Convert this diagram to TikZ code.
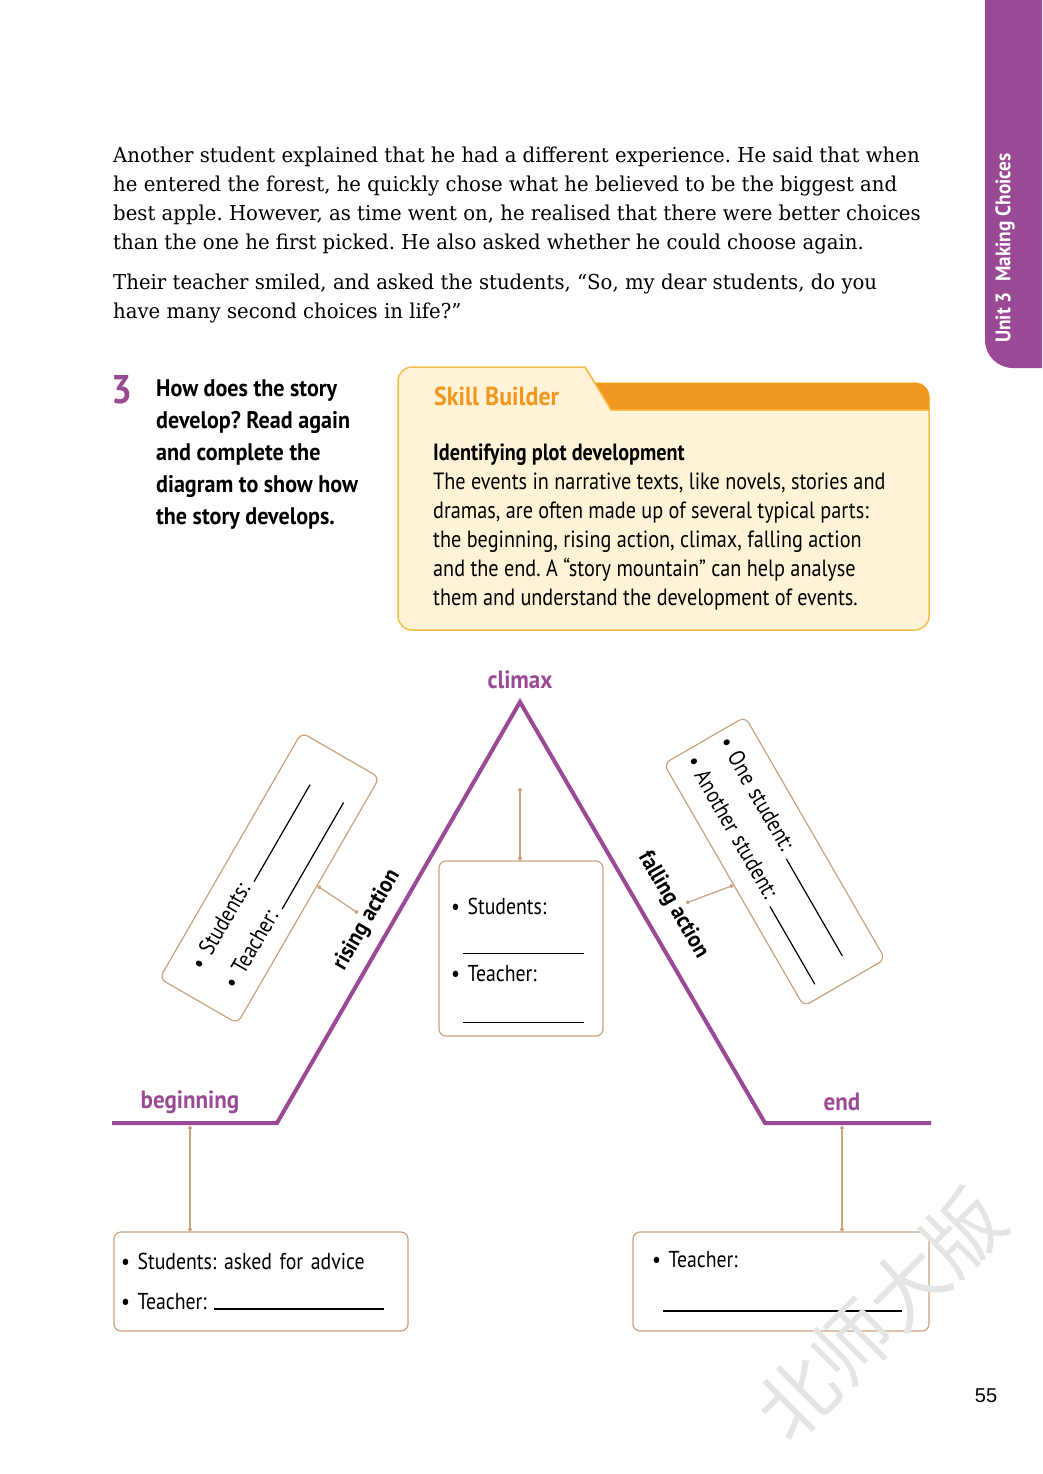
\documentclass[tikz,border=0pt]{standalone}
\usepackage{fontspec}
\setmainfont[FakeStretch=0.96]{DejaVu Serif}
\newfontfamily\condfont[FakeStretch=0.86]{PT Sans}
\newfontfamily\narrowfont[FakeStretch=0.92]{PT Sans}
\newfontfamily\pagefont{Liberation Sans}
\newfontfamily\cjkfont{Noto Sans CJK SC}
\usetikzlibrary{arrows.meta,positioning,calc}
\definecolor{unitpurple}{HTML}{9A4A95}
\definecolor{linkbrown}{HTML}{C9A27E}
\definecolor{skillcream}{HTML}{FEF3D6}
\definecolor{skillborder}{HTML}{F3C04E}
\definecolor{skillorange}{HTML}{F1961F}
\newcommand{\blank}[1]{\rule{#1}{1.2pt}}
\frenchspacing

\begin{document}
\begin{tikzpicture}[x=1pt,y=-1pt,
  answerbox/.style={draw=linkbrown,fill=white,rounded corners=7pt,line width=1.2pt,
    inner sep=0pt,align=left,font=\condfont\fontsize{23}{38}\selectfont},
  link/.style={draw=linkbrown,line width=1.2pt,{Circle[length=4pt]}-{Circle[length=4pt]}},
  mountain/.style={draw=unitpurple,line width=4pt,line join=miter},
  stagelabel/.style={font=\narrowfont\bfseries\fontsize{25}{28}\selectfont,text=unitpurple},
  slopelabel/.style={font=\narrowfont\bfseries\fontsize{23}{28}\selectfont}]
\useasboundingbox (0,0) rectangle (1042,1474);

% unit tab
\fill[unitpurple] (1042,0) -- (985,0) -- (985,340) arc[start angle=180,end angle=90,radius=28]
  -- (1042,368) -- cycle;
\node[rotate=90,text=white,font=\narrowfont\bfseries\fontsize{21}{24}\selectfont] (unittab)
  at (1005,248) {Unit 3\enspace Making Choices};

% story text (base = last line)
\node[anchor=base west,align=left,inner sep=0pt,font=\fontsize{20.5}{29}\selectfont] (story)
  at (113,249) {Another student explained that he had a different experience. He said that when\\
  he entered the forest, he quickly chose what he believed to be the biggest and\\
  best apple. However, as time went on, he realised that there were better choices\\
  than the one he first picked. He also asked whether he could choose again.};
\node[anchor=base west,align=left,inner sep=0pt,font=\fontsize{20.5}{29}\selectfont] (teacher)
  at (113,318) {Their teacher smiled, and asked the students, “So, my dear students, do you\\
  have many second choices in life?”};

% task
\node[text=unitpurple,font=\narrowfont\bfseries\fontsize{40}{40}\selectfont] (tasknum)
  at (122,390) {3};
\node[anchor=base west,align=left,inner sep=0pt,font=\narrowfont\bfseries\fontsize{24}{32}\selectfont]
  (task) at (156,524) {How does the story\\develop? Read again\\and complete the\\diagram to show how\\the story develops.};

% skill builder
\path[fill=skillcream,draw=skillborder,line width=1.5pt] (585,367) -- (595,383)
  [rounded corners=14pt] -- (929,383) -- (929,630) -- (398,630) -- (398,367) [sharp corners] -- cycle;
\fill[skillorange] (595,383) [rounded corners=13pt] -- (929,383) [sharp corners] -- (929,410)
  -- (611,410) -- cycle;
\draw[skillborder,line width=1.5pt] (585,367) -- (611,410) -- (929,410);
\node[anchor=base west,inner sep=0pt,text=skillorange,font=\narrowfont\bfseries\fontsize{26}{28}\selectfont]
  (skilltitle) at (434,405) {Skill Builder};
\node[anchor=base west,align=left,inner sep=0pt,font=\condfont\fontsize{23.5}{29}\selectfont]
  (skilltext) at (433,605) {\textbf{Identifying plot development}\\
  The events in narrative texts, like novels, stories and\\
  dramas, are often made up of several typical parts:\\
  the beginning, rising action, climax, falling action\\
  and the end. A “story mountain” can help analyse\\
  them and understand the development of events.};

% story mountain
\coordinate (start) at (112,1123);
\coordinate (foot1) at (277,1123);
\coordinate (peak) at (520,702);
\coordinate (foot2) at (765,1123);
\coordinate (finish) at (931,1123);
\draw[mountain] (start) -- (foot1) -- (peak) -- (foot2) -- (finish);

\node[stagelabel] (climaxlabel) at (520,680) {climax};
\node[stagelabel] (beginlabel) at (190,1102) {beginning};
\node[stagelabel] (endlabel) at (842,1102) {end};
\node[slopelabel,rotate=60] (risinglabel) at (367,920) {rising action};
\node[slopelabel,rotate=-60] (fallinglabel) at (673,905) {falling action};

% answer boxes
\node[answerbox,rotate=60,minimum width=284pt,minimum height=90pt,text width=228pt] (risebox)
  at (269.5,878) {\textbullet\ Students: \blank{112pt}\\\textbullet\ Teacher: \blank{123pt}};
\node[answerbox,rotate=-60,minimum width=280pt,minimum height=94pt,text width=262pt] (fallbox)
  at (774.5,861.5) {\textbullet\ One student: \blank{112pt}\\\textbullet\ Another student: \blank{90pt}};
\node[answerbox,minimum width=164pt,minimum height=175pt,text width=140pt,
  font=\condfont\fontsize{23}{27}\selectfont] (climaxbox) at (521,948.5)
  {\rule{0pt}{40pt}\textbullet\ Students:\\[13pt]\hspace*{12pt}\blank{121pt}\\
  \textbullet\ Teacher:\\[15pt]\hspace*{12pt}\blank{121pt}};
\node[answerbox,minimum width=294pt,minimum height=99pt,text width=280pt,
  font=\condfont\fontsize{23}{40}\selectfont] (begbox) at (261,1281.5)
  {\textbullet\ Students: asked for advice\\\textbullet\ Teacher: \blank{170pt}};
\node[answerbox,minimum width=296pt,minimum height=99pt,text width=258pt,
  font=\condfont\fontsize{23}{44}\selectfont] (endbox) at (781,1281.5)
  {\textbullet\ Teacher:\\\hspace*{11pt}\blank{239pt}};

% connectors
\coordinate (beglink) at (190,1126);
\coordinate (endlink) at (842,1126);
\coordinate (climaxlink) at (520,788);
\coordinate (riselink) at (358,913);
\coordinate (falllink) at (686,903);
\draw[link] (beglink) -- (beglink |- begbox.north);
\draw[link] (endlink) -- (endlink |- endbox.north);
\draw[link] (climaxlink) -- (climaxlink |- climaxbox.north);
\draw[link] ($(risebox.south)!0.12!(risebox.south east)$) -- (riselink);
\draw[link] (fallbox.south) -- (falllink);

% watermark and page number
\node[rotate=45,text=black!10,font=\cjkfont\fontsize{78}{80}\selectfont] (watermark)
  at (880,1315) {北师大版};
\node[font=\pagefont\fontsize{20}{24}\selectfont] (pagenum) at (986,1396) {55};
\end{tikzpicture}
\end{document}
